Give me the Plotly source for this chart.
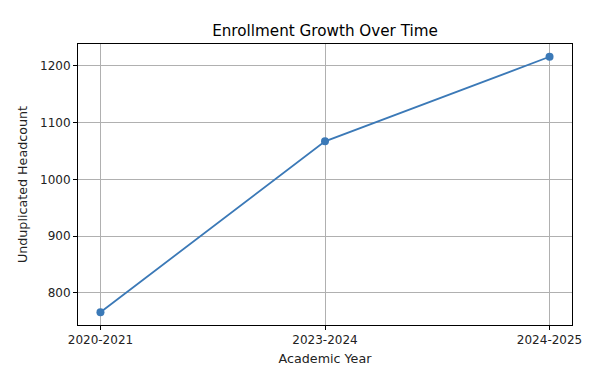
import plotly.graph_objects as go

years = ["2020-2021", "2023-2024", "2024-2025"]
headcount = [766, 1067, 1216]

color = "#3b79b7"
font = "DejaVu Sans"

fig = go.Figure()
fig.add_trace(go.Scatter(
    x=list(range(len(years))), y=headcount, mode="lines+markers",
    line=dict(color=color, width=1.8),
    marker=dict(color=color, size=8),
    showlegend=False,
))

axis_common = dict(
    showline=True, linecolor="black", linewidth=1, mirror=True,
    showgrid=True, gridcolor="#b0b0b0", gridwidth=0.8,
    ticks="outside", ticklen=4, tickcolor="black", tickwidth=1,
    tickfont=dict(family=font, size=12, color="#222"),
    zeroline=False,
)

H = 372
fig.update_layout(
    width=600, height=H,
    margin=dict(l=69.5, r=36, t=36, b=55),
    paper_bgcolor="white", plot_bgcolor="white",
    font=dict(family=font, color="#222"),
    title=dict(text="Enrollment Growth Over Time", x=0.5, xanchor="center",
               xref="paper", y=1 - 23 / H, yanchor="middle",
               font=dict(family=font, size=15.2, color="black")),
    xaxis=dict(**axis_common, range=[-0.1, 2.1],
               tickmode="array", tickvals=list(range(len(years))), ticktext=years,
               title=dict(text="Academic Year", font=dict(family=font, size=12.7, color="#222"), standoff=7)),
    yaxis=dict(**axis_common, range=[743.5, 1238.5], tickvals=[800, 900, 1000, 1100, 1200],
               title=dict(text="Unduplicated Headcount", font=dict(family=font, size=12.7, color="#222"), standoff=9)),
)

fig.write_html("out.html")
